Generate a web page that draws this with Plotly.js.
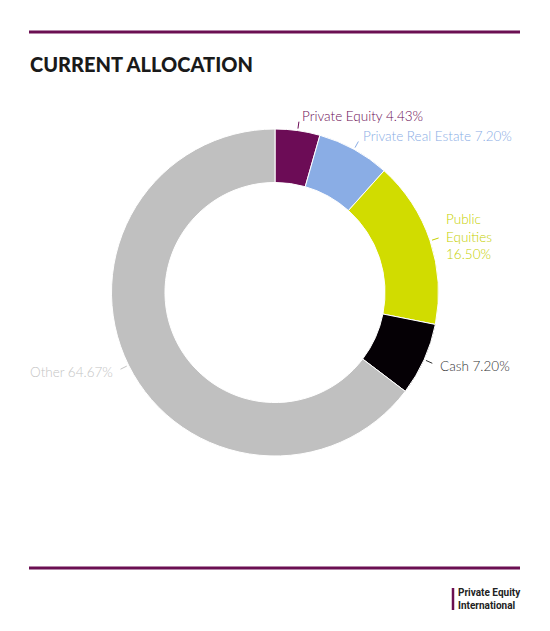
<!DOCTYPE html>
<html>
<head>
<meta charset="utf-8">
<script src="https://cdn.plot.ly/plotly-3.0.1.min.js"></script>
<style>
  html, body { margin: 0; padding: 0; background: #fff; }
  #chart { width: 550px; height: 631px; }
</style>
</head>
<body>
<div id="chart"></div>
<script>
const W = 550;
const H = 631;

const labels = ["Private Equity", "Private Real Estate", "Public Equities", "Cash", "Other"];
const values = [4.43, 7.20, 16.50, 7.20, 64.67];
const labelText = ["Private Equity 4.43%", "Private Real Estate 7.20%", "Public<br>Equities<br>16.50%", "Cash 7.20%", "Other 64.67%"];
const colors = ["#6c0c56", "#8aade5", "#d1dc00", "#050005", "#c0c0c0"];
const textColors = ["#6c0c56", "#8aade5", "#c5d000", "#333333", "#c4c4c4"];

// pie geometry in pixels
const cx = 275, cy = 292.5, R = 163.5;
const px = (x) => x / W;
const py = (y) => (H - y) / H;

// label positions from slice mid-angles
const total = values.reduce((a, b) => a + b, 0);
const annotations = [];
const shapes = [];
let acc = 0;
values.forEach((v, i) => {
  const mid = (acc + v / 2) / total * 2 * Math.PI;
  acc += v;
  const s = Math.sin(mid), c = Math.cos(mid);
  const right = s >= 0;
  const pt = (r) => [cx + r * s, cy - r * c];
  const [x0, y0] = pt(R + 2);
  const [x1, y1] = pt(R + 9);
  const [tx, ty] = pt(R + 15);
  shapes.push({
    type: "line", xref: "paper", yref: "paper",
    x0: px(x0), y0: py(y0), x1: px(x1), y1: py(y1),
    line: { color: textColors[i], width: 1 },
  });
  annotations.push({
    xref: "paper", yref: "paper",
    x: px(tx), y: py(ty),
    xanchor: right ? "left" : "right", yanchor: "middle",
    align: "left",
    text: labelText[i],
    showarrow: false,
    font: { family: "Lato, sans-serif", size: 13.5, color: textColors[i], weight: 300 },
  });
});

// title
annotations.push({
  xref: "paper", yref: "paper", x: px(28), y: py(64),
  xanchor: "left", yanchor: "middle", showarrow: false,
  text: "CURRENT ALLOCATION",
  font: { family: "Lato, sans-serif", size: 20, color: "#1a1a1a", weight: 900 },
});
// logo
annotations.push({
  xref: "paper", yref: "paper", x: px(456), y: py(599),
  xanchor: "left", yanchor: "middle", showarrow: false, align: "left",
  text: "Private Equity<br>International",
  font: { family: "Roboto, sans-serif", size: 10, color: "#222222", weight: 700 },
});

// rules and logo bar
shapes.push(
  { type: "line", xref: "paper", yref: "paper", x0: px(29), x1: px(520), y0: py(32), y1: py(32),
    line: { color: "#6b0f52", width: 3 } },
  { type: "line", xref: "paper", yref: "paper", x0: px(29), x1: px(520), y0: py(568), y1: py(568),
    line: { color: "#6b0f52", width: 3 } },
  { type: "line", xref: "paper", yref: "paper", x0: px(453), x1: px(453), y0: py(588), y1: py(610),
    line: { color: "#6b0f52", width: 2.5 } }
);

Plotly.newPlot(
  "chart",
  [
    {
      type: "pie",
      labels: labels,
      values: values,
      hole: 0.673,
      sort: false,
      direction: "clockwise",
      rotation: 0,
      textinfo: "none",
      hoverinfo: "label+percent",
      marker: { colors: colors, line: { color: "#ffffff", width: 1 } },
      domain: {
        x: [px(cx - R), px(cx + R)],
        y: [py(cy + R), py(cy - R)],
      },
    },
  ],
  {
    width: W,
    height: H,
    showlegend: false,
    margin: { t: 0, l: 0, r: 0, b: 0 },
    paper_bgcolor: "#ffffff",
    plot_bgcolor: "#ffffff",
    annotations: annotations,
    shapes: shapes,
  },
  { displayModeBar: false }
);
</script>
</body>
</html>
